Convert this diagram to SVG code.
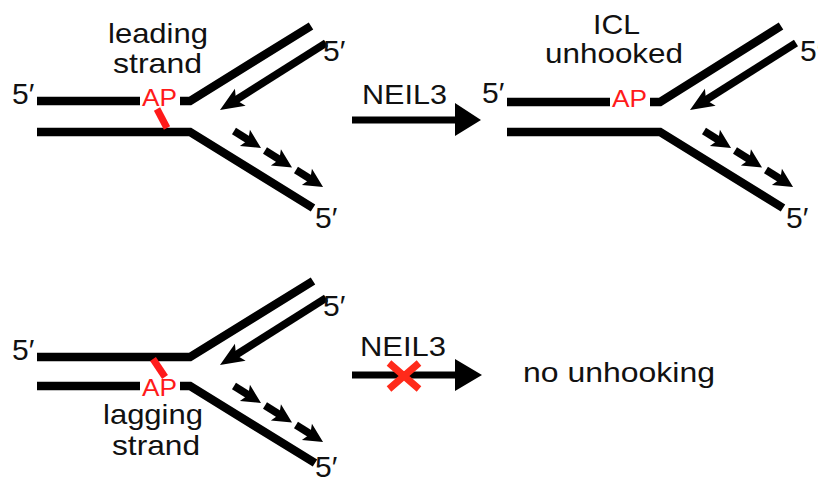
<svg xmlns="http://www.w3.org/2000/svg" width="818" height="482" viewBox="0 0 818 482">
<defs>
<style>
.s{fill:none;stroke:#000;stroke-width:8.5;stroke-linejoin:miter;stroke-linecap:butt}
.ar{fill:none;stroke:#000;stroke-width:7.5;marker-end:url(#hd)}
.da{fill:none;stroke:#000;stroke-width:7.5;marker-end:url(#hs)}
.xl{fill:none;stroke:#ff1a1a;stroke-width:7}
.t{font-family:"Liberation Sans",Arial,sans-serif;font-size:28px;fill:#111}
.f{font-family:"Liberation Sans",Arial,sans-serif;font-size:30px;fill:#111}
.ap{font-family:"Liberation Sans",Arial,sans-serif;font-size:24px;fill:#ff1a1a}
</style>
<marker id="hd" markerUnits="userSpaceOnUse" viewBox="-10 -12 30 24" markerWidth="30" markerHeight="24" refX="0" refY="0" orient="auto" overflow="visible">
<path d="M16,0 L-8,-10 L-3,0 L-8,10 Z" fill="#000"/>
</marker>
<marker id="hs" markerUnits="userSpaceOnUse" viewBox="-10 -12 30 24" markerWidth="30" markerHeight="24" refX="0" refY="0" orient="auto" overflow="visible">
<path d="M13,0 L-6,-9.5 L-2,0 L-6,9.5 Z" fill="#000"/>
</marker>
</defs>
<rect width="818" height="482" fill="#fff"/>

<g id="fork-leading">
<polyline class="s" points="37,101 140,101"/>
<polyline class="s" points="180,101 190,101 311,26"/>
<polyline class="s" points="37,132 190,132 313,208"/>
<line class="xl" x1="157" y1="109" x2="167" y2="128"/>
<line class="ar" x1="326" y1="43" x2="233.5" y2="101.5"/>
<line class="da" x1="234" y1="131" x2="250" y2="141"/>
<line class="da" x1="265" y1="150.5" x2="281" y2="160.5"/>
<line class="da" x1="296" y1="170" x2="312" y2="180"/>
<text class="ap" x="142" y="106" textLength="35" lengthAdjust="spacingAndGlyphs">AP</text>
<text class="t" x="108" y="43" textLength="100" lengthAdjust="spacingAndGlyphs">leading</text>
<text class="t" x="113" y="73" textLength="89" lengthAdjust="spacingAndGlyphs">strand</text>
<text class="f" x="12" y="104">5′</text>
<text class="f" x="323" y="61">5′</text>
<text class="f" x="315" y="228">5′</text>
</g>

<g id="fork-unhooked">
<polyline class="s" points="507,102 610,102"/>
<polyline class="s" points="650,102 660,102 781,26"/>
<polyline class="s" points="507,132 660,132 783,208"/>
<line class="ar" x1="796" y1="43" x2="703.5" y2="101.5"/>
<line class="da" x1="704" y1="131" x2="720" y2="141"/>
<line class="da" x1="735" y1="150.5" x2="751" y2="160.5"/>
<line class="da" x1="766" y1="170" x2="782" y2="180"/>
<text class="ap" x="612" y="107" textLength="35" lengthAdjust="spacingAndGlyphs">AP</text>
<text class="t" x="593" y="34" textLength="47" lengthAdjust="spacingAndGlyphs">ICL</text>
<text class="t" x="545" y="63" textLength="138" lengthAdjust="spacingAndGlyphs">unhooked</text>
<text class="f" x="482" y="103">5′</text>
<text class="f" x="800" y="61">5′</text>
<text class="f" x="786" y="228">5′</text>
</g>

<g id="fork-lagging">
<polyline class="s" points="37,357 190,357 313,281"/>
<polyline class="s" points="37,386 140,386"/>
<polyline class="s" points="180,386 190,386 315,463"/>
<line class="xl" x1="153" y1="359" x2="165" y2="377"/>
<line class="ar" x1="326" y1="298" x2="233.5" y2="356.5"/>
<line class="da" x1="234" y1="386" x2="250" y2="396"/>
<line class="da" x1="265" y1="405.5" x2="281" y2="415.5"/>
<line class="da" x1="296" y1="425" x2="312" y2="435"/>
<text class="ap" x="142" y="396" textLength="35" lengthAdjust="spacingAndGlyphs">AP</text>
<text class="t" x="103" y="424" textLength="100" lengthAdjust="spacingAndGlyphs">lagging</text>
<text class="t" x="112" y="455" textLength="88" lengthAdjust="spacingAndGlyphs">strand</text>
<text class="f" x="12" y="360">5′</text>
<text class="f" x="323" y="316">5′</text>
<text class="f" x="315" y="477">5′</text>
</g>

<g id="no-unhooking">
<text class="t" x="523" y="382" textLength="192" lengthAdjust="spacingAndGlyphs">no unhooking</text>
</g>

<g id="connectors">
<line x1="352" y1="120" x2="457" y2="120" stroke="#000" stroke-width="7"/>
<polygon points="455,103 481,120 455,136" fill="#000"/>
<text class="t" x="362" y="104" textLength="85" lengthAdjust="spacingAndGlyphs">NEIL3</text>
<line x1="352" y1="375" x2="457" y2="375" stroke="#000" stroke-width="7"/>
<polygon points="455,359 482,375 455,391" fill="#000"/>
<text class="t" x="360" y="356" textLength="86" lengthAdjust="spacingAndGlyphs">NEIL3</text>
<path d="M389,363 L419,389 M419,363 L389,389" stroke="#ff2a1a" stroke-width="7" fill="none"/>
</g>
</svg>
